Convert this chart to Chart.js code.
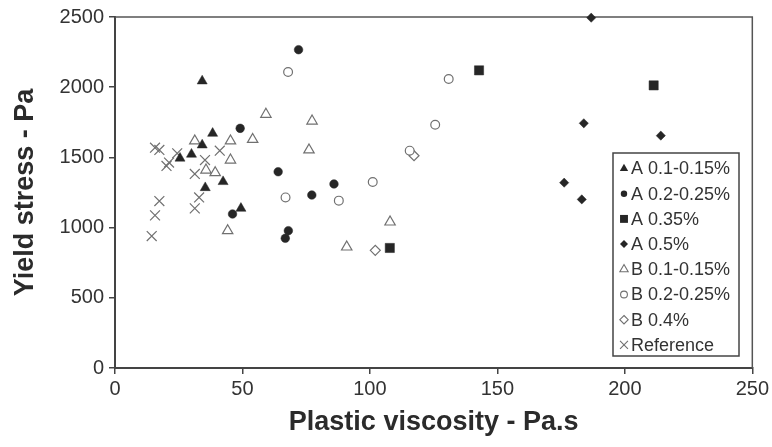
<!DOCTYPE html>
<html>
<head>
<meta charset="utf-8">
<script src="https://cdn.jsdelivr.net/npm/chart.js@4.4.1/dist/chart.umd.min.js"></script>
<style>
  html, body { margin: 0; padding: 0; background: #fff; }
  #wrap { width: 772px; height: 447px; }
</style>
</head>
<body>
<div id="wrap"><canvas id="scatterChart" width="772" height="447"></canvas></div>
<script>
// yield stress vs plastic viscosity
const aLowX = [34.2, 38.3, 34.2, 30.0, 25.5, 42.4, 35.4, 49.4];
const aLowY = [2044, 1671, 1588, 1522, 1494, 1327, 1284, 1137];
const aMidX = [72.0, 49.1, 64.0, 77.2, 85.9, 46.1, 68.0, 66.8];
const aMidY = [2267, 1707, 1398, 1232, 1311, 1097, 978, 924];
const a035X = [142.8, 211.3, 107.8];
const a035Y = [2120, 2013, 855];
const a05X = [186.8, 183.9, 214.1, 176.2, 183.1];
const a05Y = [2495, 1743, 1655, 1320, 1201];
const bLowX = [59.2, 77.3, 31.3, 45.3, 54.0, 76.1, 45.3, 35.7, 39.3, 44.2, 107.9, 90.9];
const bLowY = [1807, 1759, 1617, 1617, 1628, 1553, 1481, 1410, 1391, 978, 1040, 862];
const bMidX = [67.9, 130.9, 125.6, 115.6, 101.1, 66.9, 87.8];
const bMidY = [2108, 2058, 1733, 1548, 1325, 1215, 1192];
const b04X = [117.3, 102.1];
const b04Y = [1512, 838];
const refX = [15.7, 17.4, 24.4, 41.1, 21.2, 20.2, 35.3, 31.3, 33.0, 17.4, 31.3, 15.7, 14.4];
const refY = [1569, 1553, 1529, 1548, 1463, 1439, 1481, 1382, 1215, 1189, 1137, 1087, 940];

const seriesNames = ['A 0.1-0.15%', 'A 0.2-0.25%', 'A 0.35%', 'A 0.5%', 'B 0.1-0.15%', 'B 0.2-0.25%', 'B 0.4%', 'Reference'];
const xTicks = [0, 50, 100, 150, 200, 250];
const yTicks = [0, 500, 1000, 1500, 2000, 2500];

const DARK = '#262626';
const GREY = '#707070';
const FONT = '"Liberation Sans", Arial, sans-serif';

function pts(xs, ys) {
    return xs.map((x, i) => ({ x: x, y: ys[i] }));
}

function makeSet(i, xs, ys, style, radius, filled) {
    return {
        label: seriesNames[i],
        data: pts(xs, ys),
        pointStyle: style,
        pointRadius: radius,
        pointHoverRadius: radius,
        pointBackgroundColor: filled ? DARK : '#ffffff',
        pointBorderColor: filled ? DARK : GREY,
        pointBorderWidth: filled ? 0.5 : 1.2,
        showLine: false,
        clip: false
    };
}

const datasets = [
    makeSet(0, aLowX, aLowY, 'triangle', 5.8, true),
    makeSet(1, aMidX, aMidY, 'circle', 4.3, true),
    makeSet(2, a035X, a035Y, 'rect', 6.5, true),
    makeSet(3, a05X, a05Y, 'rectRot', 4.6, true),
    makeSet(4, bLowX, bLowY, 'triangle', 6.0, false),
    makeSet(5, bMidX, bMidY, 'circle', 4.4, false),
    makeSet(6, b04X, b04Y, 'rectRot', 5.0, false),
    makeSet(7, refX, refY, 'crossRot', 7.0, false)
];

// legend marker look: style, radius, filled
const legendMarks = [
    ['triangle', 4.8, true], ['circle', 3.2, true], ['rect', 5.6, true], ['rectRot', 4.0, true],
    ['triangle', 4.8, false], ['circle', 3.4, false], ['rectRot', 4.2, false], ['crossRot', 5.6, false]
];

function drawMark(ctx, style, r, x, y, filled) {
    ctx.save();
    ctx.beginPath();
    if (style === 'circle') {
        ctx.arc(x, y, r, 0, Math.PI * 2);
    } else if (style === 'triangle') {
        for (let k = 0; k < 3; k++) {
            const a = k * 2 * Math.PI / 3;
            const px = x + Math.sin(a) * r, py = y - Math.cos(a) * r;
            if (k === 0) ctx.moveTo(px, py); else ctx.lineTo(px, py);
        }
        ctx.closePath();
    } else if (style === 'rect') {
        const s = Math.SQRT1_2 * r;
        ctx.rect(x - s, y - s, 2 * s, 2 * s);
    } else if (style === 'rectRot') {
        ctx.moveTo(x, y - r); ctx.lineTo(x + r, y); ctx.lineTo(x, y + r); ctx.lineTo(x - r, y);
        ctx.closePath();
    } else if (style === 'crossRot') {
        const o = Math.SQRT1_2 * r;
        ctx.moveTo(x - o, y - o); ctx.lineTo(x + o, y + o);
        ctx.moveTo(x + o, y - o); ctx.lineTo(x - o, y + o);
    }
    if (filled) {
        ctx.fillStyle = DARK;
        ctx.fill();
    } else {
        ctx.strokeStyle = GREY;
        ctx.lineWidth = 1.1;
        ctx.stroke();
    }
    ctx.restore();
}

// frame around the plot + boxed legend inside the plot area
const framePlugin = {
    id: 'frameAndLegend',
    beforeDatasetsDraw(chart) {
        const ctx = chart.ctx, a = chart.chartArea;
        ctx.save();
        ctx.strokeStyle = '#555';
        ctx.lineWidth = 1.5;
        ctx.beginPath();
        ctx.moveTo(a.left, a.top);
        ctx.lineTo(a.right, a.top);
        ctx.lineTo(a.right, a.bottom);
        ctx.stroke();
        ctx.restore();
    },
    afterDraw(chart) {
        const ctx = chart.ctx;
        const bx = 613, by = 153, bw = 126, bh = 203;
        ctx.save();
        ctx.fillStyle = '#fff';
        ctx.fillRect(bx, by, bw, bh);
        ctx.strokeStyle = '#444';
        ctx.lineWidth = 1.5;
        ctx.strokeRect(bx, by, bw, bh);
        ctx.font = '18px ' + FONT;
        ctx.fillStyle = '#333';
        ctx.textBaseline = 'middle';
        ctx.textAlign = 'left';
        seriesNames.forEach((name, i) => {
            const cy = by + 15.5 + i * 25.2;
            const m = legendMarks[i];
            drawMark(ctx, m[0], m[1], bx + 11, cy, m[2]);
            ctx.fillStyle = '#333';
            ctx.fillText(name, bx + 18, cy + 1);
        });
        ctx.restore();
    }
};

new Chart(document.getElementById('scatterChart').getContext('2d'), {
    type: 'scatter',
    data: { datasets: datasets },
    plugins: [framePlugin],
    options: {
        responsive: false,
        animation: false,
        events: [],
        layout: { padding: { top: 17, right: 19, left: 0, bottom: 0 } },
        plugins: {
            legend: { display: false },
            tooltip: { enabled: false }
        },
        scales: {
            x: {
                type: 'linear',
                min: 0,
                max: 250,
                afterBuildTicks: (scale) => { scale.ticks = xTicks.map(v => ({ value: v })); },
                afterFit: (scale) => { scale.height = 79; },
                ticks: { color: '#333', font: { family: FONT, size: 20 }, padding: 3, callback: (v) => String(v) },
                grid: { drawOnChartArea: false, drawTicks: true, tickLength: 6, color: '#444', lineWidth: 1.5 },
                border: { display: true, color: '#444', width: 2 },
                title: {
                    display: true,
                    text: 'Plastic viscosity - Pa.s',
                    color: '#2b2b2b',
                    font: { family: FONT, size: 27, weight: 'bold' },
                    padding: 8
                }
            },
            y: {
                type: 'linear',
                min: 0,
                max: 2500,
                afterBuildTicks: (scale) => { scale.ticks = yTicks.map(v => ({ value: v })); },
                afterFit: (scale) => { scale.width = 115; },
                ticks: { color: '#333', font: { family: FONT, size: 20 }, padding: 5, callback: (v) => String(v) },
                grid: { drawOnChartArea: false, drawTicks: true, tickLength: 6, color: '#444', lineWidth: 1.5 },
                border: { display: true, color: '#444', width: 2 },
                title: {
                    display: true,
                    text: 'Yield stress - Pa',
                    color: '#2b2b2b',
                    font: { family: FONT, size: 27, weight: 'bold' },
                    padding: 9
                }
            }
        }
    }
});
</script>
</body>
</html>
